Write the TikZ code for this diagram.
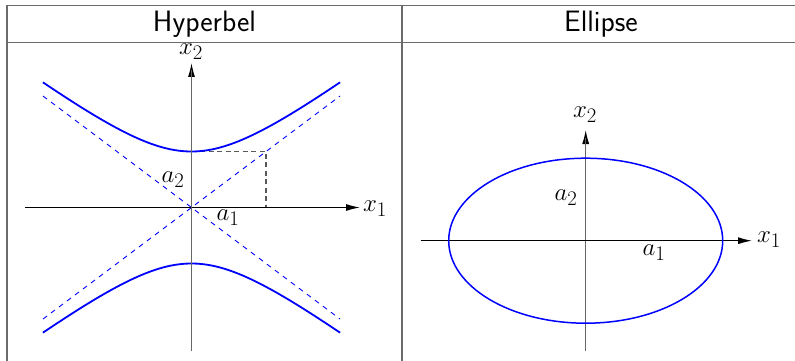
\documentclass[tikz,border=0pt]{standalone}
\usetikzlibrary{arrows.meta}
\begin{document}
\begin{tikzpicture}[x=1pt,y=-1pt,
  grid/.style={draw=black!58,line width=1.6pt},
  axis/.style={line width=1.1pt,-{Latex[length=14pt,width=7pt]}},
  vaxis/.style={draw=black!60,line width=1.3pt},
  curve/.style={draw=blue,line width=1.8pt},
  asym/.style={draw=blue,line width=0.9pt,dash pattern=on 5pt off 5pt},
  helper/.style={draw=black!65,line width=1.2pt,dash pattern=on 5pt off 3.5pt},
  lab/.style={inner sep=0pt,font=\fontsize{30}{36}\selectfont},
  head/.style={inner sep=0pt,font=\fontsize{29.5}{35}\selectfont\sffamily}]
\useasboundingbox (0,0) rectangle (795,361);
% table
\draw[grid] (7,361) -- (7,5.5) -- (795,5.5);
\draw[grid] (7,42.5) -- (795,42.5);
\draw[grid] (402,5.5) -- (402,361);
\node[head] (h1) at (204.5,24) {Hyperbel};
\node[head] (h2) at (601,24) {Ellipse};
% ---------- Hyperbel ----------
\coordinate (O1) at (191.5,207.5);
\coordinate (v1bot) at (191.5,351);
\coordinate (v1top) at (191.5,63);
\coordinate (h1l) at (25,207.5);
\coordinate (h1r) at (360,207.5);
\coordinate (ul) at (43,96);
\coordinate (ur) at (340,96);
\coordinate (ll) at (43,319);
\coordinate (lr) at (340,319);
\coordinate (vx) at (191.5,151.5);
\coordinate (cx) at (266,151.5);
\coordinate (cb) at (266,207.5);
\draw[asym] (ll) -- (ur);
\draw[asym] (ul) -- (lr);
\draw[helper] (vx) -- (cx) -- (cb);
\draw[axis] (v1bot) -- (v1top);
\draw[axis] (h1l) -- (h1r);
\draw[curve] plot[domain=-2:2,samples=80,smooth] ({191.5+74.3*\x},{207.5-56*sqrt(1+\x*\x)});
\draw[curve] plot[domain=-2:2,samples=80,smooth] ({191.5+74.3*\x},{207.5+56*sqrt(1+\x*\x)});
\draw[vaxis] (v1bot) -- (191.5,70);
\node[lab] (x2a) at (191,52) {$x_2$};
\node[lab] (x1a) at (375,209) {$x_1$};
\node[lab] (a2a) at (173,180) {$a_2$};
\node[lab] (a1a) at (228,218) {$a_1$};
% ---------- Ellipse ----------
\coordinate (O2) at (585.7,240.7);
\coordinate (v2bot) at (585.7,351);
\coordinate (v2top) at (585.7,130);
\coordinate (h2l) at (420.7,240.7);
\coordinate (h2r) at (752,240.7);
\draw[axis] (v2bot) -- (v2top);
\draw[vaxis] (v2bot) -- (585.7,138);
\draw[axis] (h2l) -- (h2r);
\draw[draw=blue,line width=1.5pt] (O2) ellipse [x radius=137pt,y radius=82.5pt];
\node[lab] (x2b) at (585,115) {$x_2$};
\node[lab] (x1b) at (769,240) {$x_1$};
\node[lab] (a2b) at (566,198) {$a_2$};
\node[lab] (a1b) at (654,253) {$a_1$};
\end{tikzpicture}
\end{document}
